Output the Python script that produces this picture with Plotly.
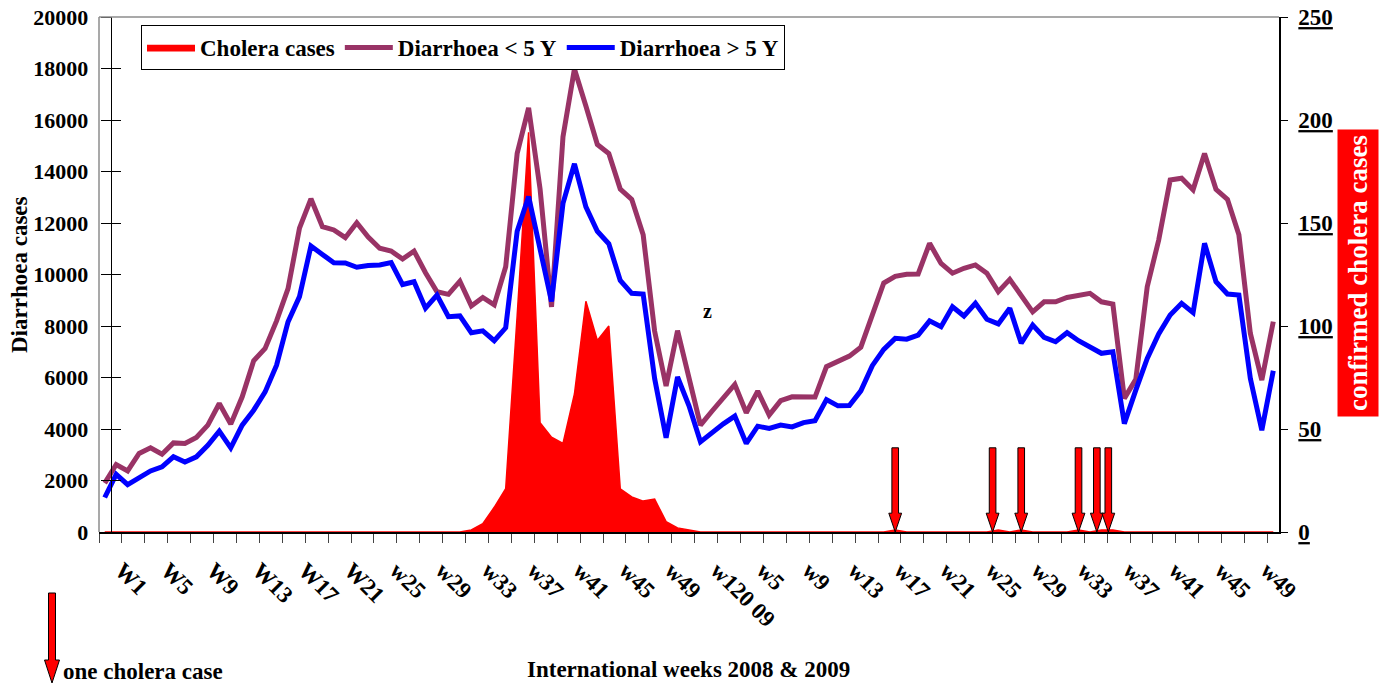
import plotly.graph_objects as go

# ---------------- data (103 consecutive weeks: 2008 W1 .. 2009 w51) ----------------
week_idx = list(range(103))

diarrhoea_under5 = [
    1900, 2620, 2370, 3050, 3270, 3020, 3460, 3440, 3670, 4150,
    4990, 4190, 5250, 6650, 7130, 8200, 9450, 11800, 12940, 11860,
    11730, 11430, 12010, 11450, 11020, 10910, 10600, 10910, 10070, 9330,
    9230, 9740, 8780, 9110, 8820, 10300, 14700, 16470, 13320, 8740,
    15350, 17980, 16540, 15050, 14700, 13320, 12920, 11540, 7800, 5670,
    7820, 5960, 4150, 4690, 5190, 5730, 4630, 5470, 4540, 5100,
    5250, 5250, 5240, 6420, 6620, 6830, 7180, 8400, 9670, 9930,
    10010, 10020, 11210, 10430, 10050, 10240, 10370, 10050, 9330, 9810,
    9200, 8550, 8940, 8940, 9110, 9200, 9270, 8940, 8850, 5190,
    5930, 9530, 11340, 13670, 13740, 13290, 14700, 13310, 12920, 11540,
    7710, 5900, 8170,
]

diarrhoea_over5 = [
    1340, 2240, 1840, 2080, 2370, 2530, 2920, 2720, 2920, 3370,
    3920, 3270, 4150, 4730, 5440, 6480, 8160, 9140, 11110, 10780,
    10460, 10450, 10280, 10350, 10370, 10460, 9610, 9720, 8690, 9200,
    8360, 8390, 7740, 7810, 7430, 7930, 11680, 13030, 10980, 8950,
    12760, 14300, 12630, 11680, 11190, 9770, 9270, 9240, 5960, 3660,
    6020, 4900, 3500, 3860, 4200, 4500, 3440, 4110, 4020, 4150,
    4080, 4250, 4320, 5140, 4900, 4910, 5480, 6460, 7090, 7520,
    7490, 7650, 8200, 7970, 8750, 8390, 8880, 8260, 8080, 8690,
    7330, 8040, 7560, 7390, 7740, 7430, 7190, 6940, 7000, 4210,
    5510, 6740, 7690, 8430, 8880, 8520, 11210, 9720, 9240, 9200,
    5960, 3950, 6260,
]

cholera_cases = [
    0, 0, 0, 0, 0, 0, 0, 0, 0, 0,
    0, 0, 0, 0, 0, 0, 0, 0, 0, 0,
    0, 0, 0, 0, 0, 0, 0, 0, 0, 0,
    0, 0, 1, 4, 12, 21, 105, 194, 53, 46,
    43, 67, 112, 93, 100, 21, 17, 15, 16, 5,
    2, 1, 0, 0, 0, 0, 0, 0, 0, 0,
    0, 0, 0, 0, 0, 0, 0, 0, 0, 1,
    0, 0, 0, 0, 0, 0, 0, 0, 1, 0,
    1, 0, 0, 0, 0, 1, 0, 1, 1, 0,
    0, 0, 0, 0, 0, 0, 0, 0, 0, 0,
    0, 0, 0,
]

# single-case arrows (2009)
case_arrow_weeks = [69, 77.5, 80, 85, 86.6, 87.6]

tick_positions = [0, 4, 8, 12, 16, 20, 24, 28, 32, 36, 40, 44, 48,
                  52, 56, 60, 64, 68, 72, 76, 80, 84, 88, 92, 96, 100]
tick_labels = ["W1", "W5", "W9", "W13", "W17", "W21", "w25", "w29", "w33",
               "w37", "w41", "w45", "w49", "w120 09", "w5", "w9", "w13",
               "w17", "w21", "w25", "w29", "w33", "w37", "w41", "w45", "w49"]

left_ticks = [0, 2000, 4000, 6000, 8000, 10000, 12000, 14000, 16000, 18000, 20000]
right_ticks = [0, 50, 100, 150, 200, 250]

# ---------------- styling ----------------
FONT = "Liberation Serif"
FS = 23
RED = "#FF0000"
PURPLE = "#993366"
BLUE = "#0000FF"

W, H = 1391, 686
# plot area in page pixels: x 99..1279, y 17..532
ML, MT = 99, 17
MR = W - 1279
MB = H - 532
PW, PH = W - ML - MR, H - MT - MB


def px_to_paper(xp, yp):
    """page pixel -> paper coordinates"""
    return (xp - ML) / PW, (H - MB - yp) / PH


fig = go.Figure()

fig.add_trace(go.Scatter(
    x=week_idx, y=cholera_cases, name="<b>Cholera cases</b>",
    mode="lines", fill="tozeroy", fillcolor=RED,
    line=dict(color=RED, width=1.5), yaxis="y", hoverinfo="skip",
))
fig.add_trace(go.Scatter(
    x=week_idx, y=diarrhoea_under5, name="<b>Diarrhoea &lt; 5 Y</b>",
    mode="lines", line=dict(color=PURPLE, width=5), yaxis="y2",
))
fig.add_trace(go.Scatter(
    x=week_idx, y=diarrhoea_over5, name="<b>Diarrhoea &gt; 5 Y</b>",
    mode="lines", line=dict(color=BLUE, width=5), yaxis="y2",
))
# dummy trace so the crossing-tick helper axis is drawn
fig.add_trace(go.Scatter(x=[None], y=[None], yaxis="y3", showlegend=False,
                         hoverinfo="skip"))

shapes = []
# grey frame (left & top)
shapes.append(dict(type="line", xref="paper", yref="paper", x0=0, x1=0, y0=0, y1=1,
                   line=dict(color="#8c8c8c", width=1.5)))
shapes.append(dict(type="line", xref="paper", yref="paper", x0=0, x1=1, y0=1, y1=1,
                   line=dict(color="#8c8c8c", width=1.5)))

# block arrows for single cholera cases (data coordinates)
SH, HH = 0.29, 0.56          # shaft / head half widths (weeks)
TOP, NECK = 3270, 730        # y2 units
for c in case_arrow_weeks:
    path = (f"M {c-SH},{TOP} L {c+SH},{TOP} L {c+SH},{NECK} L {c+HH},{NECK} "
            f"L {c},0 L {c-HH},{NECK} L {c-SH},{NECK} Z")
    shapes.append(dict(type="path", xref="x", yref="y2", path=path,
                       fillcolor=RED, line=dict(color="black", width=1)))

# legend arrow at bottom-left
ax, ytop = px_to_paper(52, 593)
_, yneck = px_to_paper(52, 660)
_, ytip = px_to_paper(52, 683)
sw = 3.5 / PW
hw = 7.5 / PW
shapes.append(dict(type="path", xref="paper", yref="paper",
                   path=(f"M {ax-sw},{ytop} L {ax+sw},{ytop} L {ax+sw},{yneck} "
                         f"L {ax+hw},{yneck} L {ax},{ytip} L {ax-hw},{yneck} "
                         f"L {ax-sw},{yneck} Z"),
                   fillcolor=RED, line=dict(color="black", width=1)))

annotations = []
xt, yt = px_to_paper(688, 669)
annotations.append(dict(text="<b>International weeks 2008 &amp; 2009</b>", xref="paper",
                        yref="paper", x=xt, y=yt, xanchor="center", yanchor="middle",
                        showarrow=False, font=dict(family=FONT, size=FS, color="black")))
xl, yl = px_to_paper(19, 275)
annotations.append(dict(text="<b>Diarrhoea cases</b>", xref="paper", yref="paper",
                        x=xl, y=yl, xanchor="center", yanchor="middle",
                        showarrow=False, textangle=-90,
                        font=dict(family=FONT, size=FS, color="black")))
xr, yr = px_to_paper(1358, 273)
annotations.append(dict(text="<b>confirmed cholera cases</b>", xref="paper",
                        yref="paper", x=xr, y=yr, xanchor="center", yanchor="middle",
                        showarrow=False, textangle=-90,
                        bgcolor=RED, borderpad=5,
                        font=dict(family=FONT, size=27, color="white")))
xo, yo = px_to_paper(61, 672)
annotations.append(dict(text="<b>one cholera case</b>", xref="paper", yref="paper",
                        x=xo, y=yo, xanchor="left", yanchor="middle", showarrow=False,
                        font=dict(family=FONT, size=FS, color="black")))
annotations.append(dict(text="<b>z</b>", xref="x", yref="y2", x=52.6, y=8580,
                        xanchor="center", yanchor="middle",
                        showarrow=False, font=dict(family=FONT, size=20, color="black")))

ypos, _ = px_to_paper(110.8, 0)
lx, ly = px_to_paper(141, 25)

fig.update_layout(
    width=W, height=H,
    margin=dict(l=ML, r=MR, t=MT, b=MB, autoexpand=False),
    paper_bgcolor="white", plot_bgcolor="white",
    font=dict(family=FONT, size=FS, color="black"),
    showlegend=True,
    legend=dict(orientation="h", x=lx, y=ly, xanchor="left", yanchor="top",
                bgcolor="white", bordercolor="black", borderwidth=1,
                font=dict(family=FONT, size=FS, color="black"),
                itemwidth=48, tracegroupgap=0),
    xaxis=dict(
        domain=[0, 1], range=[-0.5, 102.5], anchor="y",
        showline=True, linecolor="black", linewidth=1.5,
        showgrid=False, zeroline=False,
        tickmode="array", tickvals=tick_positions,
        ticktext=[f"<b>{t}</b>" for t in tick_labels],
        tickangle=45, ticks="",
        ticklabelstandoff=14, ticklabelshift=17,
        tickfont=dict(family=FONT, size=FS, color="black"),
        minor=dict(tickmode="linear", tick0=-0.5, dtick=2, ticks="outside",
                   ticklen=9, tickcolor="#444", tickwidth=1.3, showgrid=False),
    ),
    yaxis=dict(
        range=[0, 250], side="right", anchor="x",
        showline=True, linecolor="black", linewidth=1.5,
        showgrid=False, zeroline=False,
        tickmode="array", tickvals=right_ticks,
        ticktext=[f"<b><u>{v}</u></b>" for v in right_ticks],
        ticks="outside", ticklen=7, tickcolor="black",
        ticklabelstandoff=6,
        tickfont=dict(family=FONT, size=FS, color="black"),
    ),
    yaxis2=dict(
        range=[0, 20000], overlaying="y", side="left", anchor="free", position=ypos,
        showline=True, linecolor="black", linewidth=1.3,
        showgrid=False, zeroline=False,
        tickmode="array", tickvals=left_ticks,
        ticktext=[f"<b>{v}</b>" for v in left_ticks],
        ticks="outside", ticklen=10, tickcolor="black",
        ticklabelstandoff=8,
        tickfont=dict(family=FONT, size=22, color="black"),
    ),
    yaxis3=dict(
        range=[0, 20000], overlaying="y", side="left", anchor="free", position=ypos,
        showline=False, showgrid=False, zeroline=False, showticklabels=False,
        tickmode="array", tickvals=left_ticks, ticks="inside", ticklen=9,
        tickcolor="black",
    ),
    shapes=shapes,
    annotations=annotations,
)

# remove the default 8px page margin so the figure fills the window exactly
fig.write_html("out.html", config={"displayModeBar": False},
               post_script="document.body.style.margin='0px';")
